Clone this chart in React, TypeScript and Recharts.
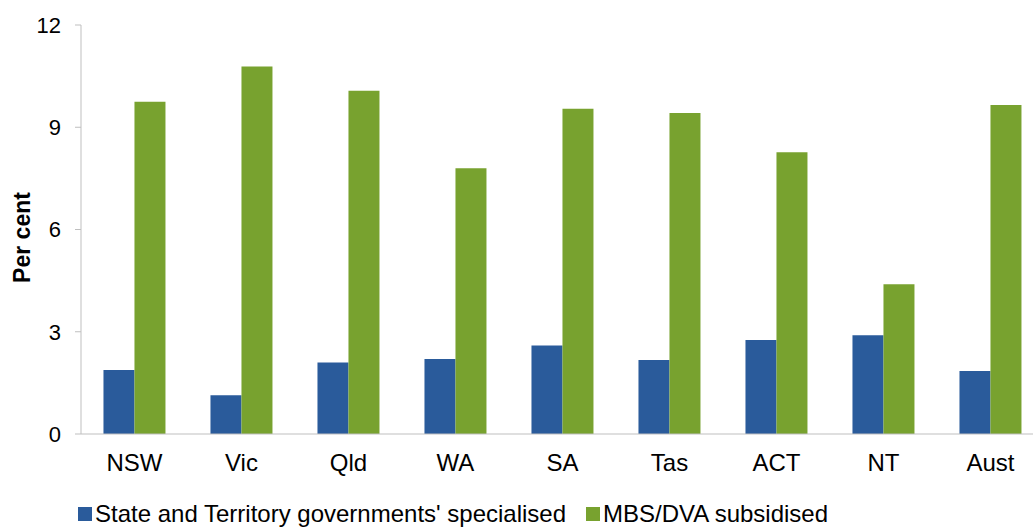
import React from 'react';
import { BarChart, Bar, XAxis, YAxis, Label } from 'recharts';

const regions = ['NSW', 'Vic', 'Qld', 'WA', 'SA', 'Tas', 'ACT', 'NT', 'Aust'];
const stateSpecialised = [1.88, 1.14, 2.1, 2.2, 2.6, 2.17, 2.76, 2.9, 1.85];
const mbsDva = [9.75, 10.78, 10.07, 7.8, 9.54, 9.42, 8.27, 4.39, 9.65];
const yTicks = [0, 3, 6, 9, 12];

const BLUE = '#2A5B9B';
const GREEN = '#78A22F';
const FONT = '"Liberation Sans", Arial, sans-serif';

const data = regions.map((r, i) => ({
  region: r,
  state: stateSpecialised[i],
  mbs: mbsDva[i],
}));

// rotated axis title, placed a little below the plot's middle like the original
function AxisTitle({ viewBox }: any) {
  const cx = 22;
  const cy = viewBox.y + viewBox.height / 2 + 8;
  return (
    <text
      x={cx}
      y={cy}
      transform={`rotate(-90 ${cx} ${cy})`}
      textAnchor="middle"
      dominantBaseline="central"
      style={{ fontSize: 23, fontWeight: 'bold', fill: '#000', fontFamily: FONT }}
    >
      Per cent
    </text>
  );
}

function LegendRow() {
  const items = [
    { name: "State and Territory governments' specialised", color: BLUE, gap: 20 },
    { name: 'MBS/DVA subsidised', color: GREEN, gap: 0 },
  ];
  return (
    <div style={{ display: 'flex', alignItems: 'center', fontFamily: FONT, fontSize: 24, color: '#000', whiteSpace: 'nowrap' }}>
      {items.map((it) => (
        <div key={it.name} style={{ display: 'flex', alignItems: 'center', marginRight: it.gap }}>
          <span style={{ width: 14, height: 14, background: it.color, display: 'inline-block', marginRight: 3 }} />
          <span>{it.name}</span>
        </div>
      ))}
    </div>
  );
}

export default function App() {
  // the original plot runs a little past the right edge, so the chart is drawn wider and clipped
  return (
    <div style={{ position: 'absolute', left: 0, top: 0, width: 1033, height: 527, background: '#fff', overflow: 'hidden' }}>
      <BarChart
        width={1044}
        height={527}
        data={data}
        margin={{ top: 25, right: 0, left: 0, bottom: 0 }}
        barCategoryGap="21%"
        barGap={0}
      >
        <XAxis
          dataKey="region"
          stroke="#BFBFBF"
          tickLine={false}
          tickSize={0}
          tickMargin={20}
          tick={{ fontSize: 24, fill: '#000', fontFamily: FONT }}
          height={93}
          interval={0}
        />
        <YAxis
          domain={[0, 12]}
          ticks={yTicks}
          width={81}
          stroke="#BFBFBF"
          tickSize={6}
          tickMargin={14}
          tick={{ fontSize: 22, fill: '#000', fontFamily: FONT }}
        >
          <Label content={<AxisTitle />} />
        </YAxis>
        <Bar dataKey="state" fill={BLUE} isAnimationActive={false} />
        <Bar dataKey="mbs" fill={GREEN} isAnimationActive={false} />
      </BarChart>
      <div style={{ position: 'absolute', left: 78, top: 500 }}>
        <LegendRow />
      </div>
    </div>
  );
}
